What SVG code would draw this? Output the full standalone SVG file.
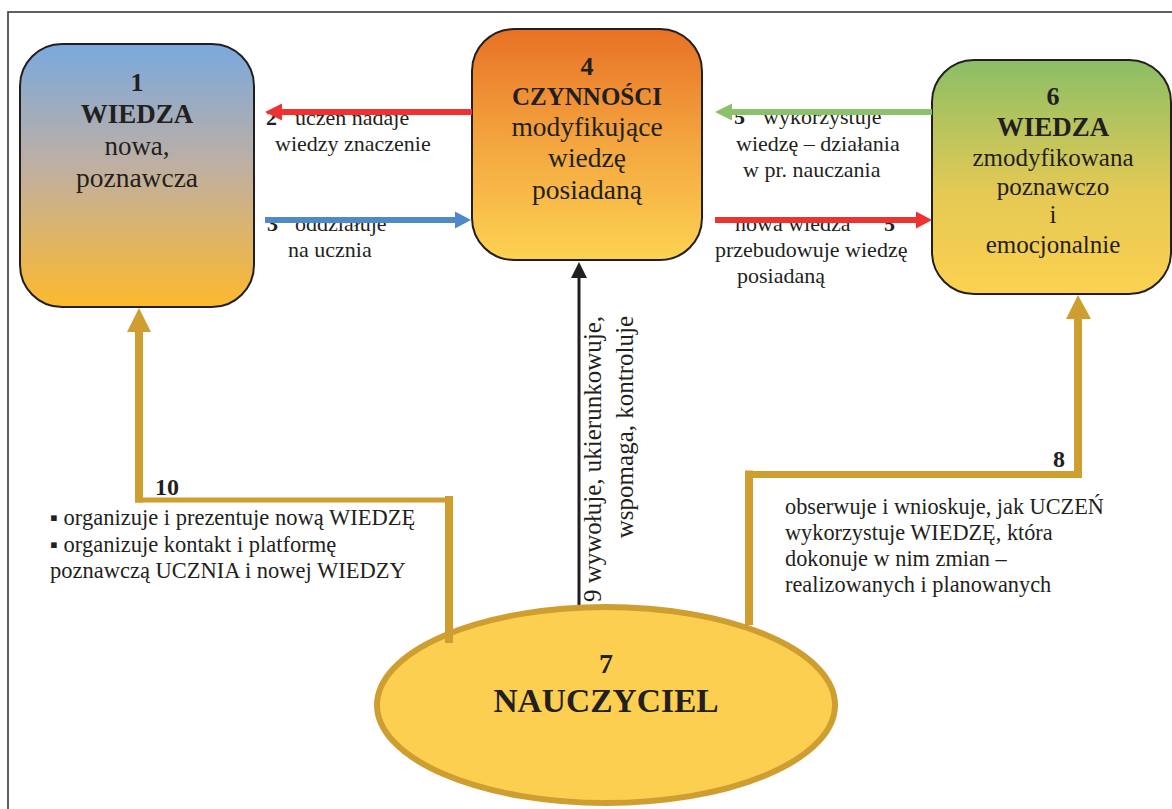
<svg xmlns="http://www.w3.org/2000/svg" width="1172" height="809" viewBox="0 0 1172 809">
  <style>
    .t { font-family: "Liberation Serif", "Times New Roman", serif; fill: #231F20; }
    .b { font-weight: bold; }
    .box { stroke: #231F20; stroke-width: 2; }
    .gold { stroke: #CE9E30; fill: none; stroke-linecap: butt; }
  </style>
  <defs>
    <linearGradient id="gBlue" x1="0" y1="0" x2="0" y2="1">
      <stop offset="0" stop-color="#79A9DD"/>
      <stop offset="0.45" stop-color="#BDAFA5"/>
      <stop offset="1" stop-color="#FDB92D"/>
    </linearGradient>
    <linearGradient id="gOrange" x1="0" y1="0" x2="0" y2="1">
      <stop offset="0" stop-color="#E77126"/>
      <stop offset="0.5" stop-color="#F4A63F"/>
      <stop offset="1" stop-color="#FDD252"/>
    </linearGradient>
    <linearGradient id="gGreen" x1="0" y1="0" x2="0" y2="1">
      <stop offset="0" stop-color="#8BBE66"/>
      <stop offset="0.55" stop-color="#E2C955"/>
      <stop offset="1" stop-color="#FDD14F"/>
    </linearGradient>
  </defs>

  <rect width="1172" height="809" fill="#FFFFFF"/>
  <!-- page frame -->
  <rect x="8" y="12" width="1200" height="900" fill="none" stroke="#3A3A3A" stroke-width="1.6"/>

  <!-- arrow labels (drawn under the arrows) -->
  <g id="labels">
    <text class="t b" x="266" y="125" font-size="22">2</text>
    <text class="t" x="295" y="125" font-size="22">uczeń  nadaje</text>
    <text class="t" x="275" y="151" font-size="22">wiedzy znaczenie</text>
    <text class="t b" x="267" y="231" font-size="22">3</text>
    <text class="t" x="295" y="231" font-size="22">oddziałuje</text>
    <text class="t" x="288" y="257" font-size="22">na ucznia</text>

    <text class="t b" x="734" y="124" font-size="22">5</text>
    <text class="t" x="763" y="124" font-size="22">wykorzystuje</text>
    <text class="t" x="736" y="151" font-size="22">wiedzę – działania</text>
    <text class="t" x="743" y="177" font-size="22">w pr. nauczania</text>
    <text class="t" x="735" y="231" font-size="22">nowa wiedza</text>
    <text class="t b" x="884" y="231" font-size="22">5</text>
    <text class="t" x="715" y="257" font-size="22">przebudowuje wiedzę</text>
    <text class="t" x="737" y="283" font-size="22">posiadaną</text>

    <text class="t" transform="translate(601,316) rotate(-90)" text-anchor="end" font-size="25">9 wywołuje, ukierunkowuje,</text>
    <text class="t" transform="translate(633,316) rotate(-90)" text-anchor="end" font-size="25">wspomaga, kontroluje</text>

    <text class="t b" x="155" y="495" font-size="24">10</text>
    <text class="t" x="50" y="525" font-size="22.5">▪ organizuje i prezentuje nową WIEDZĘ</text>
    <text class="t" x="50" y="552" font-size="22.5">▪ organizuje kontakt i platformę</text>
    <text class="t" x="50" y="578" font-size="22.5">poznawczą UCZNIA i nowej WIEDZY</text>

    <text class="t b" x="1053" y="467" font-size="24">8</text>
    <text class="t" x="785" y="514" font-size="22.3">obserwuje i wnioskuje, jak UCZEŃ</text>
    <text class="t" x="785" y="540" font-size="22.3">wykorzystuje WIEDZĘ, która</text>
    <text class="t" x="785" y="566" font-size="22.3">dokonuje w nim zmian –</text>
    <text class="t" x="785" y="592" font-size="22.3">realizowanych i planowanych</text>
  </g>

  <!-- node 1 -->
  <g id="node1">
    <rect class="box" x="20" y="44" width="234" height="263" rx="42" fill="url(#gBlue)"/>
    <text class="t b" x="137" y="91" text-anchor="middle" font-size="26">1</text>
    <text class="t b" x="137" y="123" text-anchor="middle" font-size="27">WIEDZA</text>
    <text class="t" x="137" y="155" text-anchor="middle" font-size="27">nowa,</text>
    <text class="t" x="137" y="187" text-anchor="middle" font-size="27.5">poznawcza</text>
  </g>

  <!-- node 4 -->
  <g id="node4">
    <rect class="box" x="472" y="29" width="230" height="231" rx="42" fill="url(#gOrange)"/>
    <text class="t b" x="587" y="75" text-anchor="middle" font-size="26">4</text>
    <text class="t b" x="587" y="105" text-anchor="middle" font-size="25">CZYNNOŚCI</text>
    <text class="t" x="587" y="136" text-anchor="middle" font-size="27.5">modyfikujące</text>
    <text class="t" x="587" y="167" text-anchor="middle" font-size="27.5">wiedzę</text>
    <text class="t" x="587" y="199" text-anchor="middle" font-size="27.5">posiadaną</text>
  </g>

  <!-- node 6 -->
  <g id="node6">
    <rect class="box" x="932" y="60" width="239" height="234" rx="42" fill="url(#gGreen)"/>
    <text class="t b" x="1053" y="105" text-anchor="middle" font-size="26">6</text>
    <text class="t b" x="1053" y="136" text-anchor="middle" font-size="27">WIEDZA</text>
    <text class="t" x="1053" y="166" text-anchor="middle" font-size="25">zmodyfikowana</text>
    <text class="t" x="1053" y="195" text-anchor="middle" font-size="25">poznawczo</text>
    <text class="t" x="1053" y="223" text-anchor="middle" font-size="25">i</text>
    <text class="t" x="1053" y="253" text-anchor="middle" font-size="25">emocjonalnie</text>
  </g>

  <!-- connectors -->
  <g id="connectors">
    <!-- 2: node 4 to node 1 -->
    <line x1="472" y1="112" x2="280" y2="112" stroke="#EE3131" stroke-width="6"/>
    <polygon points="265,112 282,103.5 282,120.5" fill="#EE3131"/>
    <!-- 3: node 1 to node 4 -->
    <line x1="265" y1="220" x2="457" y2="220" stroke="#4F89C8" stroke-width="6"/>
    <polygon points="471,220 455,211.5 455,228.5" fill="#4F89C8"/>
    <!-- 5: node 6 to node 4 -->
    <line x1="932" y1="112" x2="730" y2="112" stroke="#8CC06B" stroke-width="6"/>
    <polygon points="715,112 732,103.5 732,120.5" fill="#8CC06B"/>
    <!-- 5: node 4 to node 6 -->
    <line x1="715" y1="220" x2="918" y2="220" stroke="#EE3131" stroke-width="6"/>
    <polygon points="932,220 916,211.5 916,228.5" fill="#EE3131"/>
    <!-- 9: teacher to node 4 -->
    <line x1="579" y1="612" x2="579" y2="275" stroke="#231F20" stroke-width="3"/>
    <polygon points="579,262 571,278 587,278" fill="#231F20"/>
  </g>

  <!-- node 7 -->
  <g id="node7">
    <ellipse cx="606" cy="705" rx="229" ry="98" fill="#FCCF50" stroke="#CE9E30" stroke-width="6"/>
    <text class="t b" x="606" y="673" text-anchor="middle" font-size="28">7</text>
    <text class="t b" x="606" y="712" text-anchor="middle" font-size="33.5">NAUCZYCIEL</text>
  </g>

  <!-- gold connectors from the teacher -->
  <g id="teacher-connectors">
    <!-- 10: teacher to node 1 -->
    <line class="gold" x1="449" y1="643" x2="449" y2="496" stroke-width="8"/>
    <line class="gold" x1="452" y1="500" x2="135" y2="500" stroke-width="5"/>
    <line class="gold" x1="139" y1="502.5" x2="139" y2="330" stroke-width="8"/>
    <polygon points="139,308 127,332 151,332" fill="#CE9E30"/>
    <!-- 8: teacher to node 6 -->
    <line class="gold" x1="749" y1="625" x2="749" y2="470.5" stroke-width="8"/>
    <line class="gold" x1="745" y1="474.5" x2="1082" y2="474.5" stroke-width="7"/>
    <line class="gold" x1="1078" y1="478" x2="1078" y2="316" stroke-width="8"/>
    <polygon points="1078,295 1066,319 1091,319" fill="#CE9E30"/>
  </g>
</svg>
